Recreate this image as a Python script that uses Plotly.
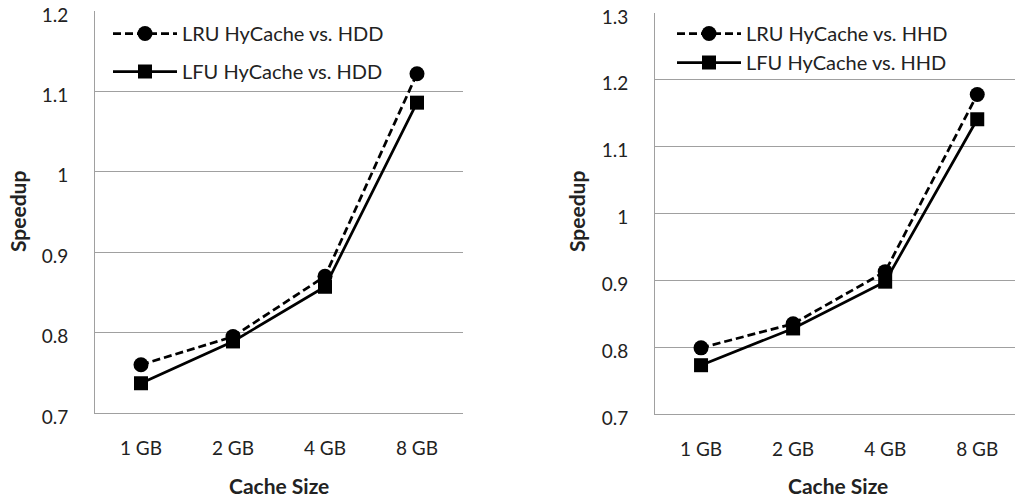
import plotly.graph_objects as go

# Cache sizes on the x axis
cache_sizes = ["1 GB", "2 GB", "4 GB", "8 GB"]

# Left panel: speedup vs. HDD
lru_vs_hdd = [0.760, 0.795, 0.870, 1.122]
lfu_vs_hdd = [0.737, 0.789, 0.857, 1.086]

# Right panel: speedup vs. HHD
lru_vs_hhd = [0.799, 0.835, 0.913, 1.178]
lfu_vs_hhd = [0.773, 0.828, 0.898, 1.141]

left_ticks = [0.7, 0.8, 0.9, 1.0, 1.1, 1.2]
left_ticktext = ["0.7", "0.8", "0.9", "1", "1.1", "1.2"]
right_ticks = [0.7, 0.8, 0.9, 1.0, 1.1, 1.2, 1.3]
right_ticktext = ["0.7", "0.8", "0.9", "1", "1.1", "1.2", "1.3"]

FONT = "Lato, 'Open Sans', sans-serif"
GRID = "#a0a0a0"
TXT = "#222222"
W, H = 1015, 500

fig = go.Figure()

def add_pair(lru, lfu, names, xaxis, yaxis, legend):
    fig.add_trace(go.Scatter(
        x=cache_sizes, y=lru, name=names[0], mode="lines+markers",
        line=dict(color="black", width=2.75, dash="8px,4px"),
        marker=dict(symbol="circle", size=15, color="black"),
        xaxis=xaxis, yaxis=yaxis, legend=legend, legendgroup=names[0]))
    fig.add_trace(go.Scatter(
        x=cache_sizes, y=lfu, name=names[1], mode="lines+markers",
        line=dict(color="black", width=2.75),
        marker=dict(symbol="square", size=14, color="black"),
        xaxis=xaxis, yaxis=yaxis, legend=legend, legendgroup=names[1]))

add_pair(lru_vs_hdd, lfu_vs_hdd,
         ["LRU HyCache vs. HDD", "LFU HyCache vs. HDD"], "x", "y", "legend")
add_pair(lru_vs_hhd, lfu_vs_hhd,
         ["LRU HyCache vs. HHD", "LFU HyCache vs. HHD"], "x2", "y2", "legend2")

xcommon = dict(type="category", showgrid=False, showline=True, linecolor=GRID,
               linewidth=1, ticks="", tickfont=dict(size=19, color=TXT),
               ticklabelstandoff=18, automargin=False, fixedrange=True,
               ticklabeloverflow="allow")
ycommon = dict(showgrid=True, gridcolor=GRID, gridwidth=1, showline=True,
               linecolor=GRID, linewidth=1, zeroline=False, ticks="",
               tickfont=dict(size=19, color=TXT), ticklabelstandoff=22,
               ticklabelshift=4, ticklabeloverflow="allow",
               automargin=False, tickmode="array")

fig.update_layout(
    width=W, height=H, margin=dict(l=0, r=0, t=0, b=0, autoexpand=False),
    paper_bgcolor="white", plot_bgcolor="white",
    font=dict(family=FONT, color=TXT),
    xaxis=dict(xcommon, domain=[95 / W, 463 / W], range=[-0.5, 3.5], anchor="y"),
    yaxis=dict(ycommon, domain=[1 - 413 / H, 1 - 11 / H], range=[0.7, 1.2],
               tickvals=left_ticks, ticktext=left_ticktext, anchor="x"),
    xaxis2=dict(xcommon, domain=[655 / W, 1.0], range=[-0.5, 3.41], anchor="y2"),
    yaxis2=dict(ycommon, domain=[1 - 414 / H, 1 - 13 / H], range=[0.7, 1.3],
                tickvals=right_ticks, ticktext=right_ticktext, anchor="x2"),
    legend=dict(x=108 / W, y=1 - 14 / H, xanchor="left", yanchor="top",
                bgcolor="rgba(255,255,255,0)", font=dict(size=20, color=TXT),
                itemwidth=64, traceorder="grouped", tracegroupgap=9),
    legend2=dict(x=672 / W, y=1 - 14 / H, xanchor="left", yanchor="top",
                 bgcolor="rgba(255,255,255,0)", font=dict(size=20, color=TXT),
                 itemwidth=64, traceorder="grouped", tracegroupgap=0),
    annotations=[
        dict(text="<b>Speedup</b>", x=18 / W, y=1 - 212 / H, xref="paper", yref="paper",
             xanchor="center", yanchor="middle",
             textangle=-90, showarrow=False, font=dict(size=21, color=TXT)),
        dict(text="<b>Cache Size</b>", x=279 / W, y=1 - 485 / H, xref="paper", yref="paper",
             xanchor="center", yanchor="middle",
             showarrow=False, font=dict(size=21, color=TXT)),
        dict(text="<b>Speedup</b>", x=577 / W, y=1 - 212 / H, xref="paper", yref="paper",
             xanchor="center", yanchor="middle",
             textangle=-90, showarrow=False, font=dict(size=21, color=TXT)),
        dict(text="<b>Cache Size</b>", x=838 / W, y=1 - 485 / H, xref="paper", yref="paper",
             xanchor="center", yanchor="middle",
             showarrow=False, font=dict(size=21, color=TXT)),
    ],
)

fig.write_html("out.html")
